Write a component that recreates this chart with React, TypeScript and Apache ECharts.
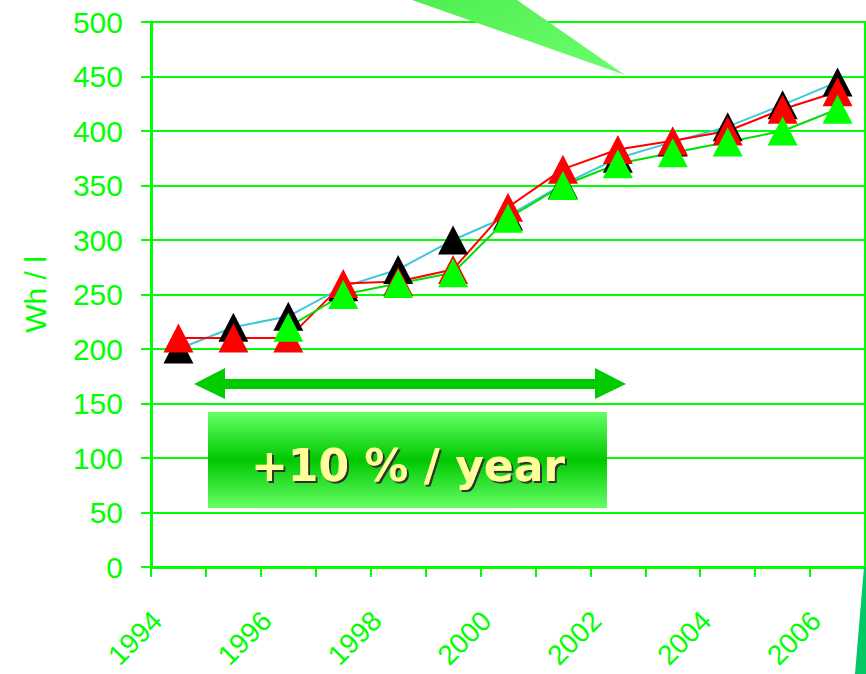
import React, { useEffect, useRef } from "react";
import * as echarts from "echarts";

const years = ["1994", "1995", "1996", "1997", "1998", "1999", "2000", "2001", "2002", "2003", "2004", "2005", "2006"];
const labelYears = [1994, 1996, 1998, 2000, 2002, 2004, 2006];
const blackValues = [200, 220, 230, 257, 273, 300, 322, 351, 375, 390, 404, 424, 445];
const redValues = [210, 210, 210, 260, 262, 273, 330, 365, 383, 391, 400, 420, 436];
const greenValues: (number | null)[] = [null, null, 220, 250, 260, 270, 320, 350, 370, 380, 390, 400, 420];
const yAxisName = "Wh / l";
const calloutText = "+10 % / year";

const GREEN = "#00FF00";
const FONT = "Liberation Sans, Arial, sans-serif";

export default function App() {
  const ref = useRef<HTMLDivElement>(null);
  useEffect(() => {
    if (!ref.current) return;
    const chart = echarts.init(ref.current, null, { renderer: "svg" });
    const triangle = (color: string, lineColor: string, data: (number | null)[], name: string) => ({
      type: "line",
      name,
      data,
      xAxisIndex: 0,
      yAxisIndex: 0,
      symbol: "triangle",
      symbolSize: [30, 29],
      showAllSymbol: true,
      connectNulls: false,
      itemStyle: { color, borderWidth: 0 },
      lineStyle: { color: lineColor, width: 2 },
      emphasis: { disabled: true },
    });
    chart.setOption({
      animation: false,
      backgroundColor: "#ffffff",
      grid: {
        left: 151,
        right: 1,
        top: 22,
        bottom: 107,
        show: true,
        borderColor: GREEN,
        borderWidth: 2,
        backgroundColor: "transparent",
        containLabel: false,
        outerBoundsMode: "none",
      },
      xAxis: [
        {
          type: "category",
          data: years,
          boundaryGap: true,
          axisLine: { show: true, lineStyle: { color: GREEN, width: 3 } },
          axisTick: { show: true, interval: 0, length: 10, lineStyle: { color: GREEN, width: 2 } },
          axisLabel: { show: false },
          splitLine: { show: false },
        },
        {
          type: "value",
          position: "bottom",
          min: 1993.89,
          max: 2006.89,
          axisLine: { show: false },
          axisTick: { show: false },
          splitLine: { show: false },
          axisLabel: {
            show: true,
            customValues: labelYears,
            rotate: 45,
            margin: 49,
            color: GREEN,
            fontSize: 28,
            fontFamily: FONT,
            formatter: (v: number) => String(Math.round(v)),
          },
        },
      ],
      yAxis: {
        type: "value",
        min: 0,
        max: 500,
        interval: 50,
        name: yAxisName,
        nameLocation: "middle",
        nameRotate: 90,
        nameGap: 101,
        nameTextStyle: { color: GREEN, fontSize: 30, fontFamily: FONT },
        axisLine: { show: true, lineStyle: { color: GREEN, width: 3 } },
        axisTick: { show: true, length: 10, lineStyle: { color: GREEN, width: 2 } },
        axisLabel: {
          color: GREEN,
          fontSize: 30,
          margin: 28,
          fontFamily: FONT,
        },
        splitLine: { show: true, lineStyle: { color: GREEN, width: 2 } },
      },
      series: [
        triangle("#000000", "#40C8D8", blackValues, "black"),
        triangle("#FF0000", "#FF0000", redValues, "red"),
        triangle("#00FF00", "#00E000", greenValues, "green"),
      ],
      graphic: [
        {
          type: "polygon",
          z: 100,
          shape: { points: [[412, 0], [517, 0], [625, 75]] },
          style: {
            fill: new echarts.graphic.LinearGradient(0, 0, 1, 1, [
              { offset: 0, color: "#50EE50" },
              { offset: 1, color: "#6CFF6C" },
            ]),
          },
        },
        {
          type: "polygon",
          z: 100,
          shape: { points: [[864, 567], [866, 567], [866, 674], [855, 674]] },
          style: { fill: "#00C864" },
        },
        {
          type: "polygon",
          z: 100,
          shape: {
            points: [
              [194, 384], [225, 368], [225, 379], [595, 379], [595, 368],
              [626, 384], [595, 399], [595, 389], [225, 389], [225, 399],
            ],
          },
          style: { fill: "#00CC00" },
        },
        {
          type: "rect",
          z: 100,
          shape: { x: 208, y: 412, width: 399, height: 96 },
          style: {
            fill: new echarts.graphic.LinearGradient(0, 0, 0, 1, [
              { offset: 0, color: "#66FF66" },
              { offset: 0.5, color: "#00C800" },
              { offset: 1, color: "#66FF66" },
            ]),
          },
        },
        {
          type: "text",
          z: 101,
          x: 408,
          y: 465,
          style: {
            text: calloutText,
            fill: "#FFFF99",
            font: "bold 44px 'DejaVu Sans', sans-serif",
            align: "center",
            verticalAlign: "middle",
            textShadowColor: "#333333",
            textShadowOffsetX: 2,
            textShadowOffsetY: 2,
            textShadowBlur: 1,
          },
        },
      ],
    });
    return () => chart.dispose();
  }, []);
  return (
    <div
      ref={ref}
      style={{ position: "fixed", left: 0, top: 0, width: 866, height: 674 }}
    />
  );
}
